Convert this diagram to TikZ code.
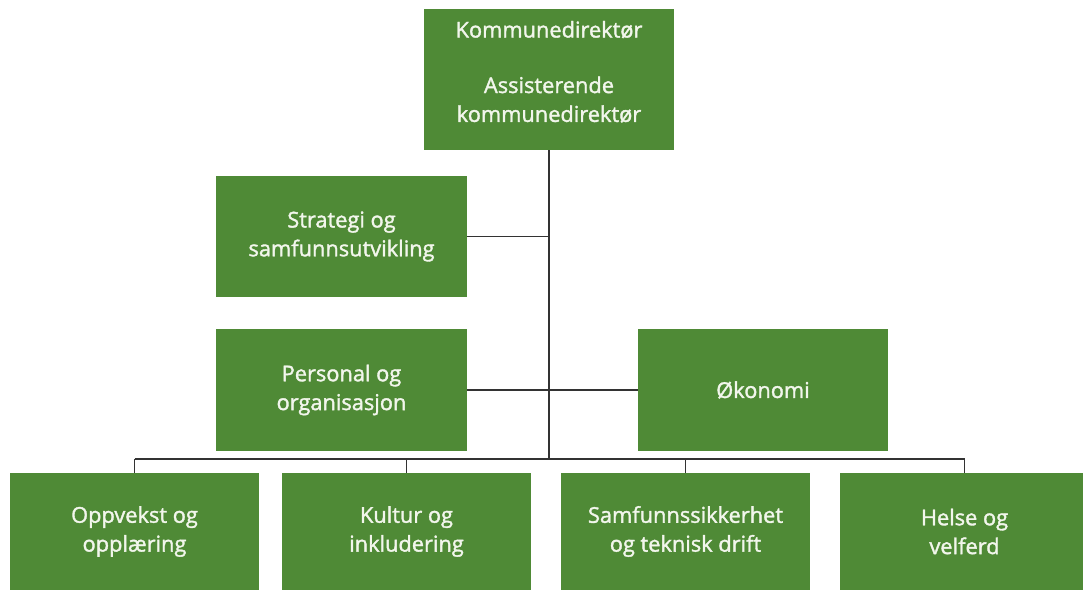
\documentclass[tikz,border=0pt]{standalone}
\usepackage{fontspec}
\newfontfamily\boxfont{Open Sans}[FakeBold=1.6]
\definecolor{kgreen}{HTML}{4F8A36}
\definecolor{kline}{HTML}{333333}
\definecolor{ktext}{HTML}{F2F6EC}
\tikzset{
  enhet/.style={fill=kgreen, text=ktext, font=\boxfont\fontsize{15.5}{20.5}\selectfont,
    align=center, inner sep=0pt, minimum width=6.25cm},
  linje/.style={draw=kline, line width=1pt}
}
\begin{document}
\begin{tikzpicture}[x=0.025cm, y=-0.025cm]

\useasboundingbox (0,0) rectangle (1083,590);

 % ledelse og stab
 \node[enhet, minimum height=3.525cm] (kd) at (549,79.5) {Kommunedirektør\\[19pt]Assisterende\\kommunedirektør\\[-9pt]\mbox{}};
 \node[enhet, minimum height=3.025cm] (strat) at (341.5,236.5) {Strategi og\\samfunnsutvikling};
 \node[enhet, minimum height=3.05cm] (pers) at (341.5,390) {Personal og\\organisasjon};
 \node[enhet, minimum height=3.05cm] (oko) at (763,390) {Økonomi};

 % sektorer
 \foreach \navn/\x/\tekst in {opp/134.5/{Oppvekst og\\opplæring},
                              kult/406.5/{Kultur og\\inkludering},
                              sam/685.5/{Samfunnssikkerhet\\og teknisk drift},
                              hel/964.5/{Helse og\\velferd}}{%
     \node[enhet, minimum width=6.225cm, minimum height=2.925cm] (\navn) at (\x,531.5) {\tekst};
 }

 \coordinate (buss) at (549,459);
 \draw[linje] (kd.south) -- (buss);
 \draw[linje] (strat.east) -- (strat.east -| kd.south);
 \draw[linje] (pers.east) -- (oko.west);
 \draw[linje] (opp.north |- buss) -- (hel.north |- buss);
 \foreach \n in {opp,kult,sam,hel}{%
     \draw[linje] (\n.north |- buss) -- (\n.north);
 }

\end{tikzpicture}
\end{document}
